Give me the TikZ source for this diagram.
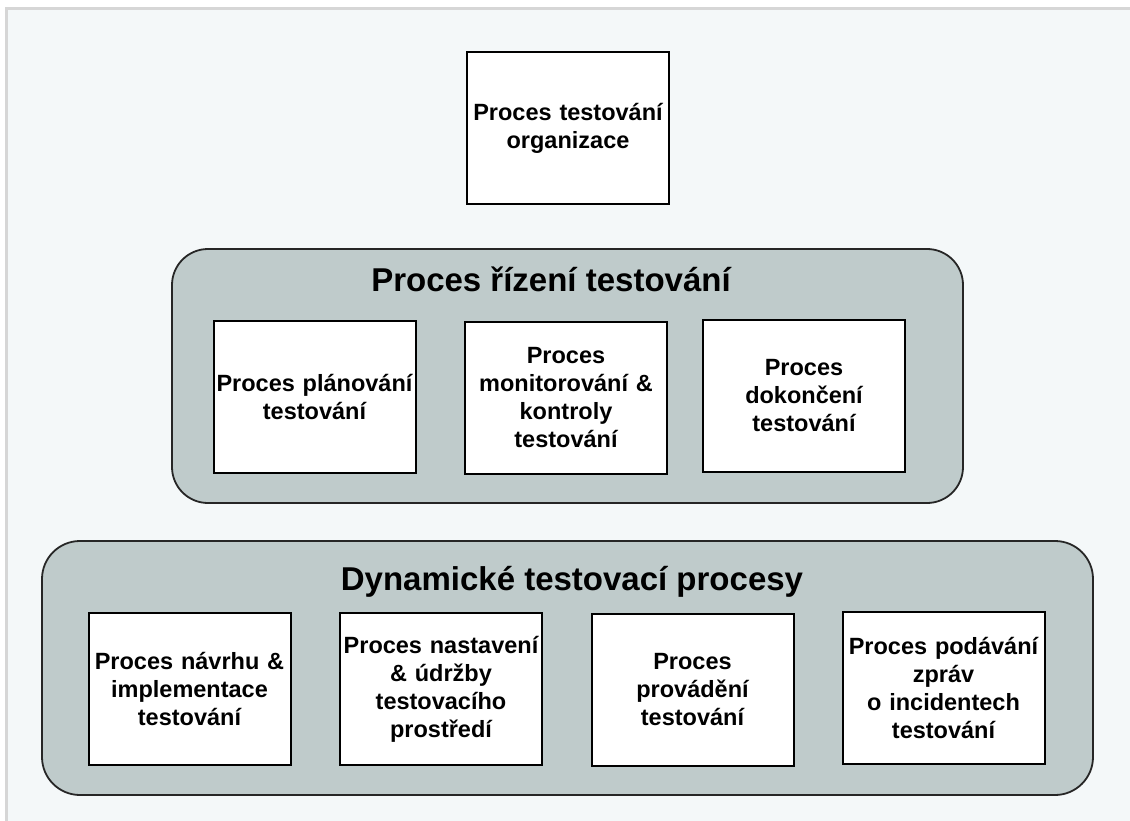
\documentclass[tikz,border=0pt]{standalone}
\usepackage{fontspec}
\setmainfont{Liberation Sans}
\definecolor{pagebg}{HTML}{F4F8F9}
\definecolor{framegray}{HTML}{D6D6D6}
\definecolor{groupfill}{HTML}{BFCBCB}

\begin{document}
\begin{tikzpicture}[x=1pt,y=-1pt,
  procbox/.style={draw=black, line width=2pt, fill=white,
    minimum width=202pt, minimum height=152pt, inner sep=0pt,
    text width=200pt, align=center,
    font=\fontsize{23.5}{28}\selectfont\bfseries},
  groupbox/.style={draw=black!85, line width=1.8pt, fill=groupfill,
    rounded corners=36pt, inner sep=0pt},
  grouptitle/.style={font=\fontsize{33}{38}\selectfont\bfseries,
    anchor=base, inner sep=0pt}]

% page and frame
\useasboundingbox (0,0) rectangle (1130,821);
\fill[white] (0,0) rectangle (1130,821);
\fill[pagebg] (5,7) rectangle (1130,821);
\draw[framegray, line width=3pt] (6.5,821) -- (6.5,8.5) -- (1130,8.5);

% organisation level
\node[procbox] (org) at (568,128) {Proces testování\\organizace};

% management level
\node[groupbox, minimum width=791pt, minimum height=254pt] (mgmt) at (567.5,376) {};
\node[grouptitle] (mgmtT) at (551,291) {Proces řízení testování};
\node[procbox] (plan) at (314.5,397) {Proces plánování\\testování};
\node[procbox] (mon)  at (566,398)   {Proces\\monitorování \&\\kontroly\\testování};
\node[procbox] (comp) at (804,396)   {Proces\\dokončení\\testování};

% dynamic level
\node[groupbox, rounded corners=38pt, minimum width=1051pt, minimum height=254pt] (dyn) at (567.5,668) {};
\node[grouptitle] (dynT) at (572,590) {Dynamické testovací procesy};
\node[procbox] (design) at (189.5,689) {Proces návrhu \&\\implementace\\testování};
\node[procbox] (env)    at (441,689)   {Proces nastavení\\\& údržby\\testovacího\\prostředí};
\node[procbox] (exec)   at (692.5,690) {Proces\\provádění\\testování};
\node[procbox] (incid)  at (943.5,688) {Proces podávání\\zpráv\\o incidentech\\testování};

\end{tikzpicture}
\end{document}
